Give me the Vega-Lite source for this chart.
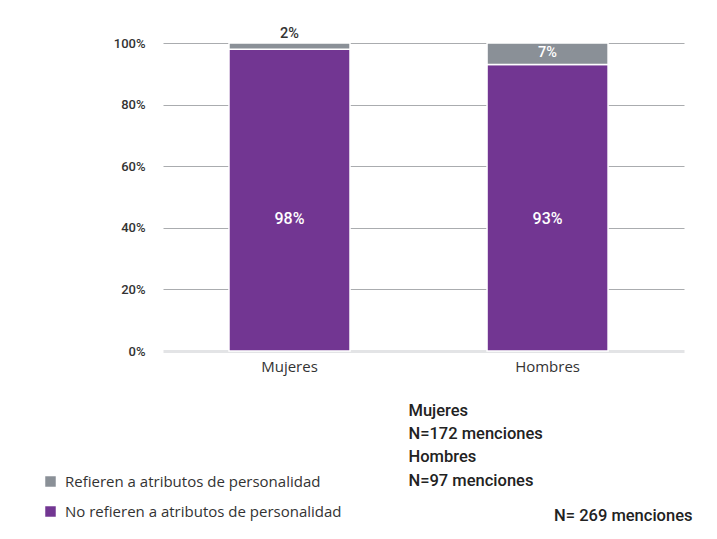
{
  "$schema": "https://vega.github.io/schema/vega-lite/v6.json",
  "autosize": {"type": "none"},
  "width": 521,
  "height": 308,
  "padding": {"left": 163, "top": 43, "right": 33, "bottom": 188},
  "background": "white",
  "config": {"view": {"stroke": null}, "font": "Open Sans"},
  "data": {
    "values": [
      {"grupo": "Mujeres", "categoria": "No refieren a atributos de personalidad", "valor": 0.98, "orden": 1},
      {"grupo": "Mujeres", "categoria": "Refieren a atributos de personalidad", "valor": 0.02, "orden": 2},
      {"grupo": "Hombres", "categoria": "No refieren a atributos de personalidad", "valor": 0.93, "orden": 1},
      {"grupo": "Hombres", "categoria": "Refieren a atributos de personalidad", "valor": 0.07, "orden": 2}
    ]
  },
  "transform": [
    {"stack": "valor", "groupby": ["grupo"], "sort": [{"field": "orden", "order": "ascending"}], "as": ["y0", "y1"]}
  ],
  "encoding": {
    "x": {
      "field": "grupo",
      "type": "nominal",
      "sort": ["Mujeres", "Hombres"],
      "scale": {"paddingInner": 0.531, "paddingOuter": 0.275, "align": 0.465},
      "axis": {
        "title": "N= 269 menciones",
        "titleX": 529,
        "titleY": 164,
        "titleAlign": "right",
        "titleAnchor": null,
        "titleBaseline": "middle",
        "titleFont": "Roboto",
        "titleFontSize": 16.5,
        "titleFontWeight": 500,
        "titleColor": "#222222",
        "labelAngle": 0,
        "labelFontSize": 15,
        "labelColor": "#333333",
        "labelPadding": 8,
        "labelFont": "Open Sans",
        "domain": false,
        "ticks": false
      }
    }
  },
  "layer": [
    {
      "mark": {"type": "bar", "stroke": "white", "strokeWidth": 1.5},
      "encoding": {
        "y": {
          "field": "y0",
          "type": "quantitative",
          "scale": {"domain": [0, 1]},
          "axis": {
            "title": ["Mujeres", "N=172 menciones", "Hombres", "N=97 menciones"],
            "titleAngle": 0,
            "titleX": 245,
            "titleY": 359,
            "titleAlign": "left",
            "titleAnchor": null,
            "titleBaseline": "top",
            "titleFont": "Roboto",
            "titleFontSize": 16.5,
            "titleFontWeight": 500,
            "titleColor": "#222222",
            "titleLineHeight": 23.4,
            "values": [0, 0.2, 0.4, 0.6, 0.8, 1],
            "format": ".0%",
            "domain": false,
            "ticks": false,
            "labelPadding": 18,
            "labelFont": "Roboto",
            "labelFontSize": 13,
            "labelFontWeight": 500,
            "labelColor": "#333333",
            "gridColor": {"condition": {"test": "datum.value === 0", "value": "#e3e4e6"}, "value": "#aaacaf"},
            "gridWidth": {"condition": {"test": "datum.value === 0", "value": 3}, "value": 1}
          }
        },
        "y2": {"field": "y1"},
        "color": {
          "field": "categoria",
          "type": "nominal",
          "scale": {
            "domain": ["Refieren a atributos de personalidad", "No refieren a atributos de personalidad"],
            "range": ["#8a9097", "#723692"]
          },
          "legend": {
            "title": null,
            "orient": "none",
            "legendX": -120,
            "legendY": 431,
            "padding": 0,
            "symbolType": "square",
            "symbolSize": 110,
            "symbolStrokeWidth": 0,
            "labelFont": "Open Sans",
            "labelFontSize": 15,
            "labelColor": "#333333",
            "labelOffset": 7,
            "rowPadding": 14,
            "labelLimit": 400
          }
        }
      }
    },
    {
      "transform": [{"filter": "datum.orden === 1"}],
      "mark": {"type": "text", "font": "Roboto", "fontSize": 16, "fontWeight": 500, "color": "white", "baseline": "middle"},
      "encoding": {
        "y": {"datum": 0.43, "type": "quantitative"},
        "text": {"field": "valor", "type": "quantitative", "format": ".0%"}
      }
    },
    {
      "transform": [{"filter": "datum.orden === 2 && datum.valor < 0.05"}],
      "mark": {"type": "text", "font": "Roboto", "fontSize": 14.5, "fontWeight": 500, "color": "#333333", "baseline": "bottom", "dy": -2},
      "encoding": {
        "y": {"field": "y1", "type": "quantitative"},
        "text": {"field": "valor", "type": "quantitative", "format": ".0%"}
      }
    },
    {
      "transform": [{"filter": "datum.orden === 2 && datum.valor >= 0.05"}],
      "mark": {"type": "text", "font": "Roboto", "fontSize": 14.5, "fontWeight": 500, "color": "white", "baseline": "middle", "dy": 10},
      "encoding": {
        "y": {"field": "y1", "type": "quantitative"},
        "text": {"field": "valor", "type": "quantitative", "format": ".0%"}
      }
    }
  ]
}
